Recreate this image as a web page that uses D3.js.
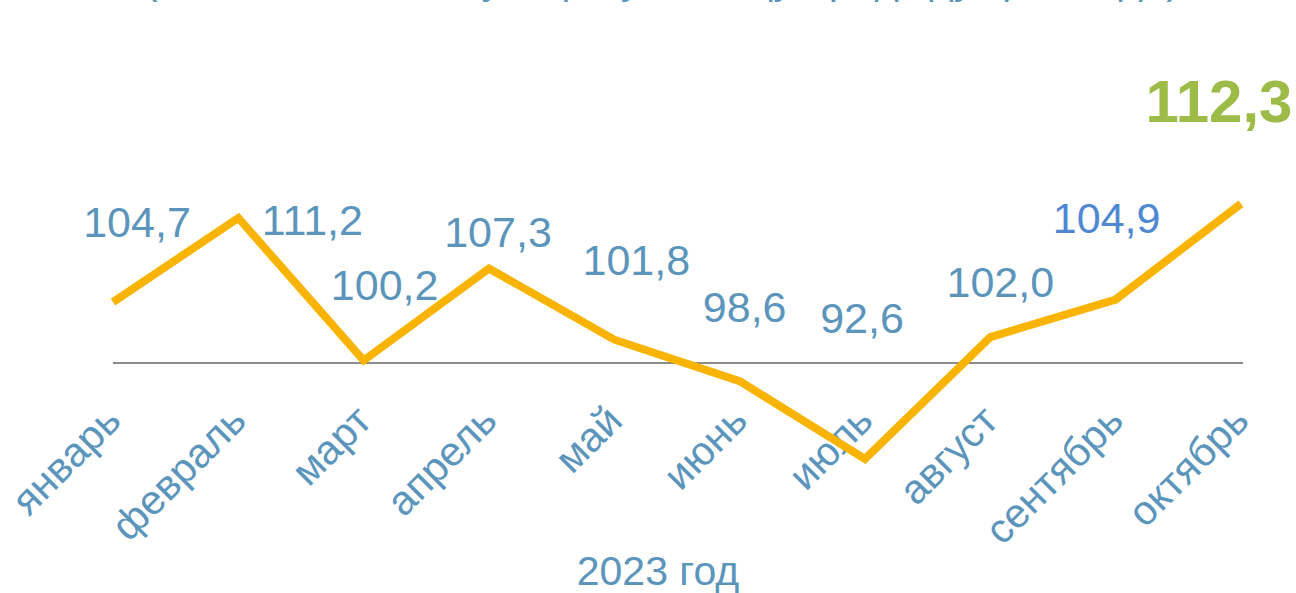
<!DOCTYPE html>
<meta charset="utf-8">
<style>
    body {
        margin: 0;
        background: #fff;
    }

    svg {
        font-family: "Liberation Sans", Arial, sans-serif;
        display: block;
    }
</style>
<body>
<script src="https://cdn.jsdelivr.net/npm/d3@7"></script>
<script>
    const months = ['январь', 'февраль', 'март', 'апрель', 'май', 'июнь', 'июль', 'август', 'сентябрь', 'октябрь'];
    const values = [104.7, 111.2, 100.2, 107.3, 101.8, 98.6, 92.6, 102.0, 104.9, 112.3];
    const valueLabels = ['104,7', '111,2', '100,2', '107,3', '101,8', '98,6', '92,6', '102,0', '104,9', '112,3'];
    const baseValue = 100;

    // manual label placement, like in the original slide (offset from the point)
    const labelOffsets = [[24, -65], [74, 17], [21, -60], [9, -21], [22, -65], [5, -59], [-3, -126], [10, -40], [-9, -67], [-22, -82]];

    const width = 1296;
    const height = 593;

    const svg = d3.select('body')
        .append('svg')
        .attr('width', width)
        .attr('height', height);

    const x = d3.scalePoint()
        .domain(months)
        .range([113, 1241]);

    const y = d3.scaleLinear()
        .domain([90, 115])
        .range([492.5, 168.75]);

    // title, cut off by the top edge
    svg.append('text')
        .attr('x', 662)
        .attr('y', -7.5)
        .attr('text-anchor', 'middle')
        .style('font-size', '42px')
        .style('fill', '#5b95bb')
        .text('(в % к соответствующему месяцу предыдущего года)');

    // baseline at 100
    svg.append('line')
        .attr('x1', 113)
        .attr('x2', 1243)
        .attr('y1', y(baseValue))
        .attr('y2', y(baseValue))
        .style('stroke', '#8c8c8c')
        .style('stroke-width', 2);

    // month labels
    svg.append('g')
        .selectAll('text')
        .data(months)
        .enter().append('text')
        .attr('transform', d => 'translate(' + (x(d) + 10) + ',423) rotate(-45)')
        .attr('text-anchor', 'end')
        .style('font-size', '41px')
        .style('fill', '#5b95bb')
        .text(d => d);

    svg.append('text')
        .attr('x', 658)
        .attr('y', 585)
        .attr('text-anchor', 'middle')
        .style('font-size', '41px')
        .style('fill', '#5b95bb')
        .text('2023 год');

    const line = d3.line()
        .x((d, i) => x(months[i]))
        .y(d => y(d));

    svg.append('path')
        .datum(values)
        .attr('d', line)
        .style('fill', 'none')
        .style('stroke', '#f8b400')
        .style('stroke-width', 8)
        .style('stroke-linejoin', 'miter');

    // value labels
    svg.append('g')
        .selectAll('text')
        .data(values)
        .enter().append('text')
        .attr('x', (d, i) => x(months[i]) + labelOffsets[i][0])
        .attr('y', (d, i) => y(d) + labelOffsets[i][1])
        .attr('text-anchor', 'middle')
        .style('font-size', (d, i) => i === values.length - 1 ? '60px' : '43px')
        .style('font-weight', (d, i) => i === values.length - 1 ? 'bold' : 'normal')
        .style('fill', (d, i) => i === values.length - 1 ? '#9dbb47' : (i === 8 ? '#4f88d2' : '#5b95bb'))
        .text((d, i) => valueLabels[i]);
</script>
</body>
</html>
